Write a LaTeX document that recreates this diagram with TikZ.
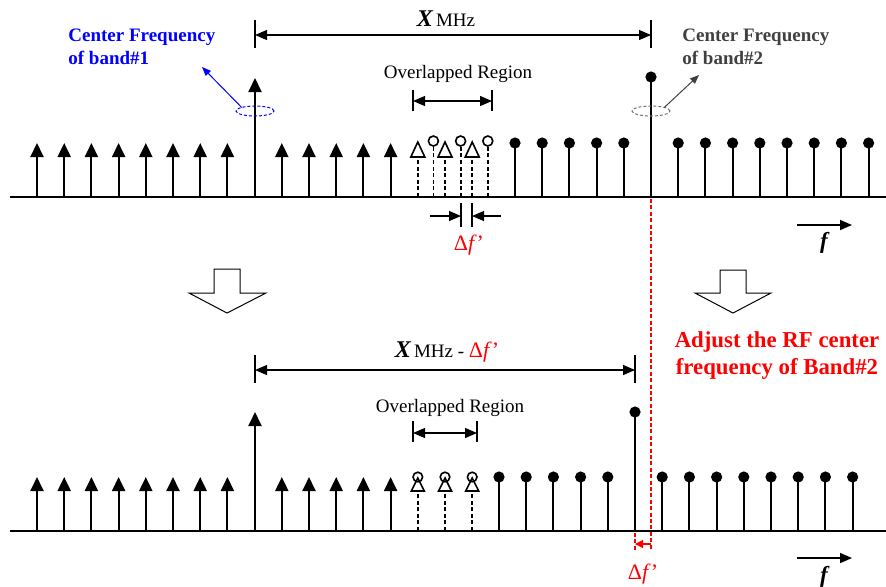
\documentclass[tikz,border=0pt]{standalone}
\usepackage{fontspec}
\setmainfont{Liberation Serif}
\usetikzlibrary{arrows.meta, shapes.geometric}

\newcommand{\dfp}{Δ\textit{f}’}

\begin{document}
\begin{tikzpicture}[
    x=0.5pt, y=-0.5pt,
    axis/.style={line width=1pt},
    stem/.style={line width=1pt},
    tipstem/.style={stem, -{Triangle[length=7pt,width=6.5pt]}},
    ovlstem/.style={line width=0.9pt, dash pattern=on 2pt off 1.3pt},
    hollow/.style={line width=0.8pt},
    dimline/.style={line width=0.6pt, {Triangle[length=6pt,width=5pt]}-{Triangle[length=6pt,width=5pt]}},
    tick/.style={line width=0.7pt},
    bandlbl/.style={anchor=west, align=left, inner sep=0pt, font=\fontsize{9.5}{11.5}\selectfont\bfseries},
    txt/.style={inner sep=0pt, font=\fontsize{9.5}{11.5}\selectfont},
    cfmark/.style={ellipse, draw, inner sep=0pt, outer sep=0pt, minimum width=19pt, minimum height=5pt, line width=0.5pt, dash pattern=on 1.5pt off 1pt},
    bigarrow/.style={line width=0.5pt},
    redline/.style={draw=red, line width=0.7pt, dash pattern=on 2pt off 1.2pt}
]
\useasboundingbox (0,0) rectangle (886,586);

% ---------- upper spectrum ----------
\draw[axis] (10,197) -- (886,197);
% band#1
\foreach \k in {0,...,7,9,10,...,13}
    \draw[tipstem] ({37+27.2*\k},197) -- ++(0,-54);
\draw[tipstem] (255,197) -- (255,78);
\foreach \k in {14,15,16} {
    \draw[ovlstem] ({37+27.2*\k},197) -- ++(0,-40);
    \draw[hollow] ({37+27.2*\k},142) -- ++(7,15) -- ++(-14,0) -- cycle;
}
% band#2
\foreach \m in {-5,...,-1,1,2,...,8} {
    \draw[stem] ({651+27.2*\m},197) -- ++(0,-54);
    \fill ({651+27.2*\m},143) circle (2.8pt);
}
\draw[stem] (651,197) -- (651,77);
\fill (651,77) circle (2.8pt);
\foreach \m in {-8,-7,-6} {
    \draw[ovlstem] ({651+27.2*\m},197) -- ++(0,-50);
    \draw[hollow] ({651+27.2*\m},141) circle (2.5pt);
}

% centre frequency marks
\node[cfmark, draw=blue] (e1) at (255,111) {};
\node[cfmark, draw=black!55] (e2) at (651,111) {};
\node[bandlbl, text=blue] (lbl1) at (68,47) {Center Frequency\\of band\#1};
\node[bandlbl, text=black!75] (lbl2) at (682,47) {Center Frequency\\of band\#2};
\coordinate (p1) at (202,67);
\coordinate (p2) at (699,75);
\draw[blue, line width=0.5pt, -{Triangle[length=4.5pt,width=3.5pt]}] (e1.165) -- (p1);
\draw[black!75, line width=0.5pt, -{Triangle[length=4.5pt,width=3.5pt]}] (e2.15) -- (p2);

% X MHz
\coordinate (xl) at (255,35);
\coordinate (xr) at (651,35);
\draw[tick] (255,20) -- (255,48);
\draw[tick] (651,20) -- (651,48);
\draw[dimline] (xl) -- (xr);
\node[txt] (xlbl) at (446,19) {{\fontsize{12}{14}\selectfont\bfseries\itshape X}\,MHz};

% overlapped region
\node[txt] (ovl1) at (458,74) {Overlapped Region};
\coordinate (ol) at (413,101);
\coordinate (or) at (492,101);
\draw[tick] (413,90) -- (413,111);
\draw[tick] (492,90) -- (492,111);
\draw[dimline] (ol) -- (or);

% delta f between the two grids
\draw[tick] (461,203) -- (461,227);
\draw[tick] (472,203) -- (472,227);
\coordinate (dl) at (461,216);
\coordinate (dr) at (472,216);
\draw[line width=0.6pt, -{Triangle[length=6pt,width=5pt]}] (430,216) -- (dl);
\draw[line width=0.6pt, -{Triangle[length=6pt,width=5pt]}] (501,216) -- (dr);
\node[txt, text=red, font=\fontsize{11}{12}\selectfont] (df1) at (469,245) {\dfp};

% frequency axis
\coordinate (f1a) at (797,225);
\coordinate (f1b) at (852,225);
\draw[line width=0.8pt, -{Triangle[length=6pt,width=5pt]}] (f1a) -- (f1b);
\node[txt, font=\fontsize{11.5}{14}\selectfont\bfseries\itshape] (f1) at (824,243) {f};

% ---------- transition ----------
\draw[bigarrow] (214,269) -- (240,269) -- (240,293) -- (266,293) -- (227,313) -- (189,293) -- (214,293) -- cycle;
\draw[bigarrow] (720,270) -- (746,270) -- (746,293) -- (771,293) -- (733,313) -- (695,293) -- (720,293) -- cycle;
\node[align=center, inner sep=0pt, text=red, font=\fontsize{11.4}{13.5}\selectfont\bfseries] (adj) at (777,356) {Adjust the RF center\\frequency of Band\#2};
\draw[redline] (651,199) -- (651,550);

% ---------- lower spectrum ----------
\draw[axis] (10,531) -- (886,531);
% band#1
\foreach \k in {0,...,7,9,10,...,13}
    \draw[tipstem] ({37+27.2*\k},531) -- ++(0,-54);
\draw[tipstem] (255,531) -- (255,412);
% band#2 (shifted)
\foreach \m in {-5,...,-1,1,2,...,8} {
    \draw[stem] ({635+27.2*\m},531) -- ++(0,-54);
    \fill ({635+27.2*\m},477) circle (2.8pt);
}
\draw[stem] (635,531) -- (635,412);
\fill (635,412) circle (2.8pt);
% coinciding subcarriers
\foreach \k in {14,15,16} {
    \draw[ovlstem] ({37+27.2*\k},531) -- ++(0,-40);
    \draw[hollow] ({37+27.2*\k},477) circle (2.4pt);
    \draw[hollow] ({37+27.2*\k},478) -- ++(6.5,13) -- ++(-13,0) -- cycle;
}

% X MHz - delta f
\coordinate (yl) at (255,370);
\coordinate (yr) at (635,370);
\draw[tick] (255,355) -- (255,383);
\draw[tick] (635,355) -- (635,383);
\draw[dimline] (yl) -- (yr);
\node[txt] (ylbl) at (447,352) {{\fontsize{12}{14}\selectfont\bfseries\itshape X}\,MHz - {\color{red}\fontsize{11}{12}\selectfont\dfp}};

% overlapped region
\node[txt] (ovl2) at (450,408) {Overlapped Region};
\coordinate (ql) at (413,433);
\coordinate (qr) at (477,433);
\draw[tick] (413,421) -- (413,442);
\draw[tick] (477,421) -- (477,442);
\draw[dimline] (ql) -- (qr);

% shift of band#2
\draw[redline] (635,533) -- (635,550);
\coordinate (sa) at (651,544);
\coordinate (sb) at (635,544);
\draw[red, line width=0.6pt, -{Triangle[length=4pt,width=4pt]}] (sa) -- (sb);
\node[txt, text=red, font=\fontsize{11}{12}\selectfont] (df2) at (643,574) {\dfp};

% frequency axis
\coordinate (f2a) at (797,558);
\coordinate (f2b) at (852,558);
\draw[line width=0.8pt, -{Triangle[length=6pt,width=5pt]}] (f2a) -- (f2b);
\node[txt, font=\fontsize{11.5}{14}\selectfont\bfseries\itshape] (f2) at (824,577) {f};
\end{tikzpicture}
\end{document}
